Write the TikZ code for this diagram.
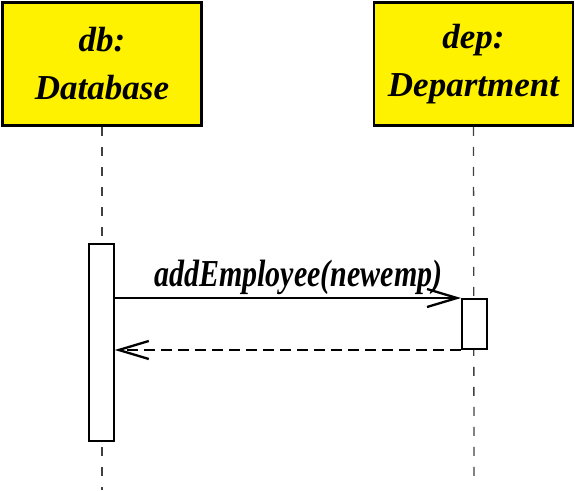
\documentclass[tikz,border=0pt]{standalone}
\usepackage{fontspec}
\setmainfont{Liberation Serif}
\usetikzlibrary{arrows.meta}
\begin{document}
\begin{tikzpicture}[x=1pt,y=-1pt,
  objbox/.style={draw, line width=2.5pt, fill=yellow, minimum width=199pt,
    minimum height=123pt, inner sep=0pt, align=center,
    font=\fontsize{35}{48}\selectfont\bfseries\itshape},
  actbox/.style={draw, line width=1.6pt, fill=white, minimum width=25pt, inner sep=0pt},
  lifeline/.style={draw=black!75, line width=1.3pt, dash pattern=on 9pt off 11pt},
  msg/.style={line width=2.3pt, -{Straight Barb[length=30pt,width=18pt,line width=2.3pt]}},
  reply/.style={msg, dash pattern=on 11pt off 6pt},
  msglabel/.style={font=\fontsize{30}{32}\selectfont\bfseries\itshape, inner sep=0pt}]
\useasboundingbox (0,0) rectangle (575,490);
% objects
\node[objbox] (db) at (102,64) {db:\\Database};
\node[objbox] (dep) at (473.5,64) {dep:\\Department};
% lifelines
\coordinate (dbend) at (102,490);
\coordinate (depend) at (474,476);
\draw[lifeline] (db.south) -- (dbend);
\draw[lifeline] (dep.south) -- (depend);
% activations
\node[actbox, minimum height=197pt] (dba) at (101.5,342.5) {};
\node[actbox, line width=2pt, minimum height=50pt] (depa) at (474.5,324) {};
% messages
\draw[msg] (dba.east |- depa.north west) -- node[msglabel, anchor=base, yshift=12pt, pos=0.53] (lbl) {\scalebox{1}[1.27]{addEmployee(newemp)}} (depa.north west);
\draw[reply] (depa.south west) -- (dba.east |- depa.south west);
\end{tikzpicture}
\end{document}
